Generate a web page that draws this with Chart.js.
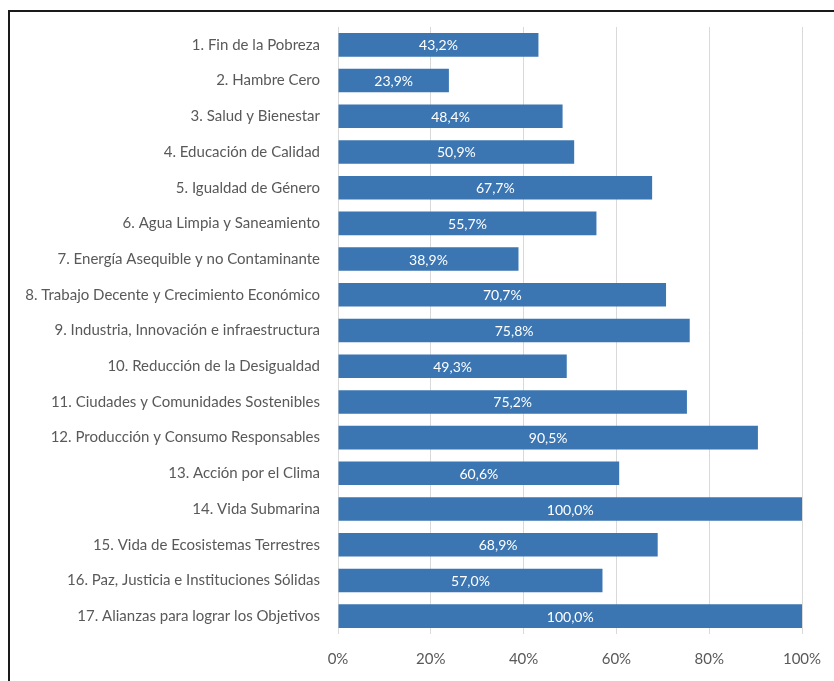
<!DOCTYPE html>
<html>
<head>
<meta charset="utf-8">
<script src="https://cdn.jsdelivr.net/npm/chart.js@4"></script>
<style>
  html, body { margin: 0; padding: 0; background: #fff; }
  #wrap { width: 834px; height: 681px; }
</style>
</head>
<body>
<div id="wrap"><canvas id="odsChart" width="834" height="681"></canvas></div>
<script>
const objetivos = [
    '1. Fin de la Pobreza',
    '2. Hambre Cero',
    '3. Salud y Bienestar',
    '4. Educación de Calidad',
    '5. Igualdad de Género',
    '6. Agua Limpia y Saneamiento',
    '7. Energía Asequible y no Contaminante',
    '8. Trabajo Decente y Crecimiento Económico',
    '9. Industria, Innovación e infraestructura',
    '10. Reducción de la Desigualdad',
    '11. Ciudades y Comunidades Sostenibles',
    '12. Producción y Consumo Responsables',
    '13. Acción por el Clima',
    '14. Vida Submarina',
    '15. Vida de Ecosistemas Terrestres',
    '16. Paz, Justicia e Instituciones Sólidas',
    '17. Alianzas para lograr los Objetivos'
];
const porcentajes = [43.2, 23.9, 48.4, 50.9, 67.7, 55.7, 38.9, 70.7, 75.8, 49.3, 75.2, 90.5, 60.6, 100.0, 68.9, 57.0, 100.0];
const ticksX = [0, 20, 40, 60, 80, 100];

const fontFamily = 'Lato, "Open Sans", sans-serif';

function formatoPct(v) {
    return v.toFixed(1).replace('.', ',') + '%';
}

// marco negro alrededor del gráfico
const marco = {
    id: 'marco',
    beforeDraw(chart) {
        const ctx = chart.ctx;
        ctx.save();
        ctx.fillStyle = '#fff';
        ctx.fillRect(0, 0, chart.width, chart.height);
        ctx.strokeStyle = '#1a1a1a';
        ctx.lineWidth = 2;
        ctx.strokeRect(9, 11, chart.width + 20, chart.height + 20);
        ctx.restore();
    }
};

// etiquetas de valor centradas dentro de cada barra
const etiquetas = {
    id: 'etiquetas',
    afterDatasetsDraw(chart) {
        const ctx = chart.ctx;
        const meta = chart.getDatasetMeta(0);
        ctx.save();
        ctx.fillStyle = '#ffffff';
        ctx.font = '14px ' + fontFamily;
        ctx.textAlign = 'center';
        ctx.textBaseline = 'middle';
        meta.data.forEach((bar, i) => {
            const cx = (bar.x + bar.base) / 2;
            ctx.fillText(formatoPct(porcentajes[i]), cx, bar.y + 1);
        });
        ctx.restore();
    }
};

const ctx = document.getElementById('odsChart').getContext('2d');
new Chart(ctx, {
    type: 'bar',
    data: {
        labels: objetivos,
        datasets: [{
            data: porcentajes,
            backgroundColor: '#3b76b2',
            borderWidth: 0,
            categoryPercentage: 0.66,
            barPercentage: 1.0
        }]
    },
    options: {
        indexAxis: 'y',
        responsive: false,
        animation: false,
        layout: {
            padding: { top: 25, right: 32, left: 0, bottom: 0 }
        },
        plugins: {
            legend: { display: false },
            tooltip: { enabled: false }
        },
        scales: {
            x: {
                min: 0,
                max: 100,
                afterBuildTicks(scale) {
                    scale.ticks = ticksX.map(v => ({ value: v }));
                },
                afterFit(scale) {
                    scale.height = 47;
                    scale.paddingRight = 0;
                },
                grid: { color: '#d9d9d9', lineWidth: 1, drawTicks: false },
                border: { display: false },
                ticks: {
                    padding: 16,
                    color: '#595959',
                    font: { family: fontFamily, size: 15 },
                    callback: v => v + '%'
                }
            },
            y: {
                afterFit(scale) {
                    scale.width = 338;
                },
                grid: { display: false, drawTicks: false },
                border: { display: false },
                ticks: {
                    padding: 18,
                    color: '#595959',
                    autoSkip: false,
                    font: { family: fontFamily, size: 15 }
                }
            }
        }
    },
    plugins: [marco, etiquetas]
});
</script>
</body>
</html>
